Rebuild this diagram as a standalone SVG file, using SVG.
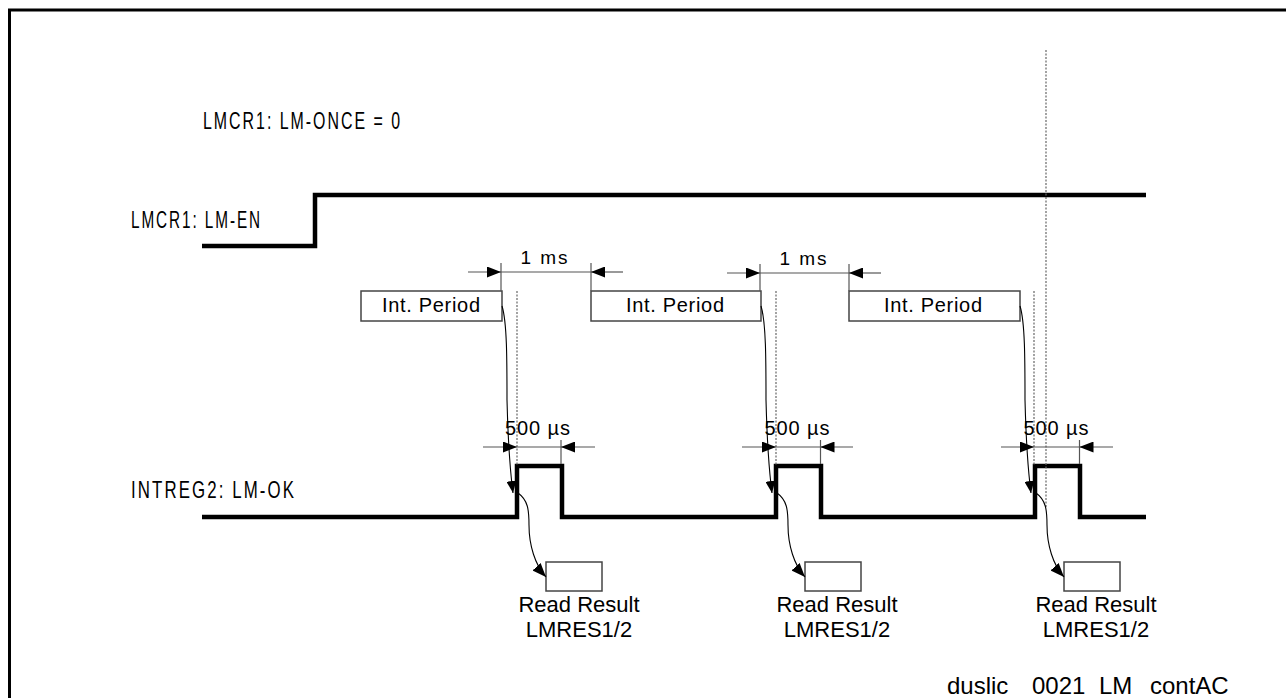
<svg xmlns="http://www.w3.org/2000/svg" width="1286" height="698" viewBox="0 0 1286 698">
<style>
.lbl{font-family:"Liberation Sans",Arial,sans-serif;fill:#000}
.big{font-size:24px;letter-spacing:3px}
.sig{fill:none;stroke:#000;stroke-width:4.5;stroke-linejoin:miter}
.dim{fill:none;stroke:#555;stroke-width:1.2}
.dot{fill:none;stroke:#666;stroke-width:1.2;stroke-dasharray:2,1.5}
.box{fill:#fff;stroke:#444;stroke-width:1.5}
.crv{fill:none;stroke:#000;stroke-width:1.1}
</style>
<defs>
<marker id="ah" markerUnits="userSpaceOnUse" markerWidth="14" markerHeight="11" refX="14" refY="5.5" orient="auto"><path d="M0,0 L14,5.5 L0,11 z" fill="#000"/></marker>
<marker id="ahs" markerUnits="userSpaceOnUse" markerWidth="12" markerHeight="10" refX="12" refY="5" orient="auto"><path d="M0,0 L12,5 L0,10 z" fill="#000"/></marker>
</defs>
<rect x="9.5" y="10" width="1290" height="700" fill="none" stroke="#000" stroke-width="3"/>

<g id="labels">
<text class="lbl big" x="203" y="129" textLength="199" lengthAdjust="spacingAndGlyphs">LMCR1: LM-ONCE = 0</text>
<text class="lbl big" x="131" y="228" textLength="131" lengthAdjust="spacingAndGlyphs">LMCR1: LM-EN</text>
<text class="lbl big" x="131" y="498" textLength="165" lengthAdjust="spacingAndGlyphs">INTREG2: LM-OK</text>
</g>

<g id="signal-lm-en"><path class="sig" d="M202,246 H315 V195 H1146"/></g>
<g id="signal-lm-ok"><path class="sig" d="M202,517 H517 V466 H562 V517 H776 V466 H821 V517 H1035 V466 H1080 V517 H1146"/></g>

<g id="guides">
<line class="dot" x1="517" y1="291" x2="517" y2="466"/>
<line class="dot" x1="776" y1="291" x2="776" y2="466"/>
<line class="dot" x1="1034" y1="291" x2="1034" y2="466"/>
<line class="dot" x1="1046" y1="50" x2="1046" y2="508"/>
</g>

<g id="int-period-1">
<rect class="box" x="361" y="291" width="141" height="30"/>
<text class="lbl" x="431" y="312" font-size="20" text-anchor="middle" textLength="98" lengthAdjust="spacing">Int. Period</text>
</g>
<g id="int-period-2">
<rect class="box" x="591" y="291" width="170" height="30"/>
<text class="lbl" x="675" y="312" font-size="20" text-anchor="middle" textLength="98" lengthAdjust="spacing">Int. Period</text>
</g>
<g id="int-period-3">
<rect class="box" x="849" y="291" width="171" height="30"/>
<text class="lbl" x="933" y="312" font-size="20" text-anchor="middle" textLength="98" lengthAdjust="spacing">Int. Period</text>
</g>

<g id="read-result-1">
<rect class="box" x="546" y="562" width="56" height="29"/>
<text class="lbl" x="579" y="612" font-size="22" text-anchor="middle">Read Result</text>
<text class="lbl" x="579" y="637" font-size="22" text-anchor="middle">LMRES1/2</text>
</g>
<g id="read-result-2">
<rect class="box" x="805" y="562" width="56" height="29"/>
<text class="lbl" x="837" y="612" font-size="22" text-anchor="middle">Read Result</text>
<text class="lbl" x="837" y="637" font-size="22" text-anchor="middle">LMRES1/2</text>
</g>
<g id="read-result-3">
<rect class="box" x="1064" y="562" width="56" height="29"/>
<text class="lbl" x="1096" y="612" font-size="22" text-anchor="middle">Read Result</text>
<text class="lbl" x="1096" y="637" font-size="22" text-anchor="middle">LMRES1/2</text>
</g>

<g id="dimensions">
<line class="dim" x1="501" y1="263" x2="501" y2="291"/>
<line class="dim" x1="591" y1="263" x2="591" y2="291"/>
<line class="dim" x1="501" y1="272" x2="591" y2="272"/>
<line class="dim" x1="468" y1="272" x2="501" y2="272" marker-end="url(#ah)"/>
<line class="dim" x1="623" y1="272" x2="591" y2="272" marker-end="url(#ah)"/>
<text class="lbl" x="544" y="264" font-size="19" text-anchor="middle" textLength="47" lengthAdjust="spacing">1 ms</text>
<line class="dim" x1="760" y1="264" x2="760" y2="291"/>
<line class="dim" x1="849" y1="264" x2="849" y2="291"/>
<line class="dim" x1="760" y1="273" x2="849" y2="273"/>
<line class="dim" x1="727" y1="273" x2="760" y2="273" marker-end="url(#ah)"/>
<line class="dim" x1="881" y1="273" x2="849" y2="273" marker-end="url(#ah)"/>
<text class="lbl" x="803" y="265" font-size="19" text-anchor="middle" textLength="47" lengthAdjust="spacing">1 ms</text>
<line class="dim" x1="561" y1="440" x2="561" y2="464"/>
<line class="dim" x1="517" y1="447" x2="561" y2="447"/>
<line class="dim" x1="483" y1="447" x2="517" y2="447" marker-end="url(#ah)"/>
<line class="dim" x1="595" y1="447" x2="561" y2="447" marker-end="url(#ah)"/>
<text class="lbl" x="537.5" y="435" font-size="20" text-anchor="middle" textLength="65" lengthAdjust="spacing">500 µs</text>
<line class="dim" x1="820.5" y1="440" x2="820.5" y2="464"/>
<line class="dim" x1="776" y1="447" x2="820.5" y2="447"/>
<line class="dim" x1="742" y1="447" x2="776" y2="447" marker-end="url(#ah)"/>
<line class="dim" x1="853" y1="447" x2="820.5" y2="447" marker-end="url(#ah)"/>
<text class="lbl" x="797" y="435" font-size="20" text-anchor="middle" textLength="65" lengthAdjust="spacing">500 µs</text>
<line class="dim" x1="1079.5" y1="440" x2="1079.5" y2="464"/>
<line class="dim" x1="1034" y1="447" x2="1079.5" y2="447"/>
<line class="dim" x1="1001" y1="447" x2="1034" y2="447" marker-end="url(#ah)"/>
<line class="dim" x1="1113" y1="447" x2="1079.5" y2="447" marker-end="url(#ah)"/>
<text class="lbl" x="1056" y="435" font-size="20" text-anchor="middle" textLength="65" lengthAdjust="spacing">500 µs</text>
</g>

<g id="connectors">
<path class="crv" d="M502,306 C507,322 507,360 507,400 C508,440 510,470 513,493" marker-end="url(#ahs)"/>
<path class="crv" d="M518,493 C528,500 529,510 529,525 C529,545 535,565 546,577" marker-end="url(#ah)"/>
<path class="crv" d="M761,306 C766,322 766,360 766,400 C767,440 769,470 772,493" marker-end="url(#ahs)"/>
<path class="crv" d="M777,493 C787,500 788,510 788,525 C788,545 794,565 805,577" marker-end="url(#ah)"/>
<path class="crv" d="M1020,306 C1025,322 1025,360 1025,400 C1026,440 1028,470 1031,493" marker-end="url(#ahs)"/>
<path class="crv" d="M1036,493 C1046,500 1047,510 1047,525 C1047,545 1053,565 1064,577" marker-end="url(#ah)"/>
</g>

<g id="footer">
<text class="lbl" y="694" font-size="24"><tspan x="947">duslic</tspan><tspan x="1032">0021</tspan><tspan x="1099">LM</tspan><tspan x="1150">contAC</tspan></text>
</g>
</svg>
